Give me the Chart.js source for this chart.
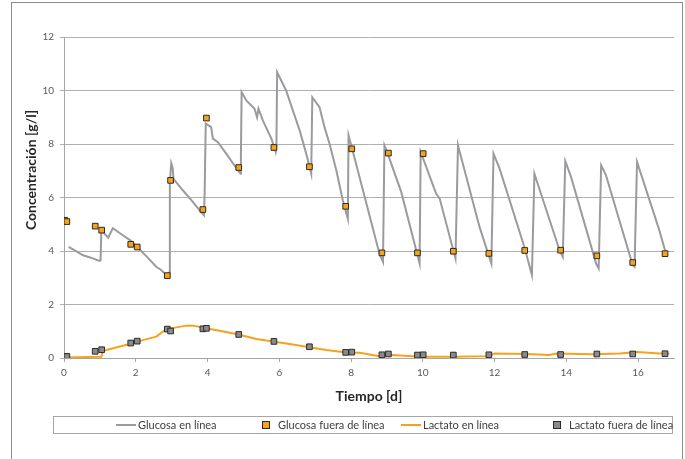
<!DOCTYPE html>
<html lang="es">
<head>
<meta charset="utf-8">
<title>Glucosa y lactato</title>
<script src="https://cdn.jsdelivr.net/npm/chart.js@4"></script>
<style>
  html, body { margin: 0; padding: 0; background: #fff; overflow: hidden; }
  body { width: 685px; height: 459px; position: relative; }
  #marco { position: absolute; left: 11px; top: 2px; width: 670px; height: 500px; border: 1px solid #8c8c8c; }
  #grafico { position: absolute; left: 0; top: 0; }
</style>
</head>
<body>
<div id="marco"></div>
<canvas id="grafico" width="685" height="459"></canvas>
<script>
/*=============== DATOS ===============*/

// Glucosa en línea (sensor continuo)
const glucosaLineaDias = [
  0.13, 0.3, 0.53, 0.75, 0.99, 1.02, 1.04, 1.23, 1.36, 1.5, 1.64, 1.85, 2.04, 2.3, 2.57, 2.7, 2.85,
  2.93, 2.95, 2.99, 3.03, 3.05, 3.31, 3.55, 3.78, 3.9, 3.92, 3.95, 4.1, 4.15, 4.29, 4.52, 4.85, 4.92,
  4.93, 4.95, 5.08, 5.31, 5.38, 5.42, 5.54, 5.78, 5.9, 5.92, 5.94, 6.19, 6.38, 6.57, 6.75, 6.89,
  6.92, 7.12, 7.26, 7.4, 7.59, 7.77, 7.91, 7.93, 8.03, 8.79, 8.89, 8.93, 9.02, 9.4, 9.85, 9.91,
  9.94, 10.37, 10.47, 10.91, 10.98, 11.58, 11.91, 11.97, 12.14, 12.83, 13.04, 13.11, 13.81, 13.9,
  13.97, 14.13, 14.83, 14.9, 14.97, 15.1, 15.85, 15.9, 15.97, 16.59, 16.75, 16.8
];
const glucosaLineaValores = [
  4.15, 4.02, 3.84, 3.75, 3.63, 3.65, 4.78, 4.5, 4.85, 4.72, 4.59, 4.4, 4.15, 3.8, 3.41, 3.3, 3.1,
  3.2, 6.6, 7.28, 7.1, 6.7, 6.27, 5.9, 5.52, 5.34, 6.2, 8.76, 8.63, 8.2, 8.07, 7.64, 7.01, 6.89,
  7.5, 9.94, 9.63, 9.32, 9.0, 9.32, 8.88, 8.2, 7.7, 7.9, 10.68, 10.0, 9.25, 8.5, 7.64, 6.89,
  9.75, 9.38, 8.63, 8.01, 7.01, 5.9, 5.21, 8.32, 7.82, 3.91, 3.59, 7.95, 7.64, 6.2, 3.85, 3.53,
  7.7, 6.15, 5.96, 3.72, 7.95, 4.9, 3.53, 7.64, 7.08, 4.15, 3.1, 6.89, 4.03, 3.78,
  7.36, 6.77, 3.53, 3.35, 7.2, 6.85, 3.47, 3.41, 7.33, 4.78, 4.03, 3.95
];

// Muestras fuera de línea (mismos días para glucosa y lactato)
const muestrasDias = [
  0.02, 0.08, 0.87, 1.05, 1.86, 2.04, 2.88, 2.97, 3.87, 3.97, 4.87, 5.85, 6.84, 7.85, 8.02,
  8.86, 9.04, 9.85, 10.01, 10.85, 11.84, 12.84, 13.84, 14.85, 15.85, 16.75
];
const glucosaFueraValores = [
  5.15, 5.1, 4.93, 4.78, 4.25, 4.15, 3.08, 6.64, 5.55, 8.97, 7.12, 7.87, 7.15, 5.67, 7.82,
  3.93, 7.66, 3.93, 7.64, 3.99, 3.91, 4.02, 4.03, 3.82, 3.57, 3.9
];
const lactatoFueraValores = [
  0.06, 0.06, 0.25, 0.31, 0.56, 0.63, 1.08, 1.01, 1.09, 1.11, 0.88, 0.62, 0.42, 0.21, 0.22,
  0.12, 0.15, 0.11, 0.12, 0.11, 0.12, 0.13, 0.13, 0.15, 0.15, 0.16
];

// Lactato en línea
const lactatoLineaDias = [
  0.07, 1.04, 1.09, 1.83, 2.15, 2.57, 2.85, 3.41, 3.6, 3.97, 4.8, 5.36, 5.83, 6.29, 6.84, 7.31,
  7.87, 8.24, 8.79, 9.17, 9.91, 10.84, 11.86, 12.0, 12.88, 13.53, 13.72, 14.73, 15.48, 15.99,
  16.59, 16.87
];
const lactatoLineaValores = [
  0.02, 0.05, 0.27, 0.52, 0.65, 0.8, 1.08, 1.21, 1.21, 1.11, 0.9, 0.71, 0.62, 0.52, 0.4, 0.3,
  0.21, 0.2, 0.07, 0.11, 0.05, 0.05, 0.07, 0.17, 0.15, 0.11, 0.17, 0.14, 0.17, 0.22,
  0.17, 0.17
];

const ejeXTicks = [0, 2, 4, 6, 8, 10, 12, 14, 16];
const ejeYTicks = [0, 2, 4, 6, 8, 10, 12];

/*=============== GRAFICO ===============*/

const puntos = (xs, ys) => xs.map((x, i) => ({ x: x, y: ys[i] }));

const GRIS = "#9b9b9f";
const NARANJA = "#f7a21b";
const FUENTE = "Lato, 'Liberation Sans', sans-serif";

// leyenda dibujada a mano, estilo Excel
const leyendaExcel = {
  id: "leyendaExcel",
  afterDraw(chart) {
    const ctx = chart.ctx;
    ctx.save();
    ctx.strokeStyle = "#a6a6a6";
    ctx.lineWidth = 1;
    ctx.strokeRect(53.5, 416.5, 619, 17);
    const columnas = [116, 256, 401, 547];
    const yc = 425;
    ctx.font = "11px " + FUENTE;
    ctx.fillStyle = "#404040";
    ctx.textBaseline = "middle";
    chart.data.datasets.forEach((ds, i) => {
      const x = columnas[i];
      if (ds.showLine) {
        ctx.strokeStyle = ds.borderColor;
        ctx.lineWidth = 2;
        ctx.beginPath();
        ctx.moveTo(x, yc);
        ctx.lineTo(x + 20, yc);
        ctx.stroke();
      } else {
        ctx.fillStyle = ds.backgroundColor;
        ctx.strokeStyle = ds.borderColor;
        ctx.lineWidth = 1;
        ctx.fillRect(x + 6.5, yc - 3.5, 7, 7);
        ctx.strokeRect(x + 6.5, yc - 3.5, 7, 7);
      }
      ctx.fillStyle = "#404040";
      ctx.fillText(ds.label, x + 22, yc);
    });
    // titulo del eje Y
    ctx.translate(31, 170);
    ctx.rotate(-Math.PI / 2);
    ctx.textAlign = "center";
    ctx.font = "bold 14px " + FUENTE;
    ctx.fillStyle = "#262626";
    ctx.fillText("Concentración [g/l]", 0, 0);
    ctx.restore();
  },
};

const ctx = document.getElementById("grafico").getContext("2d");
const grafico = new Chart(ctx, {
  type: "scatter",
  data: {
    datasets: [
      {
        label: "Glucosa en línea",
        data: puntos(glucosaLineaDias, glucosaLineaValores),
        showLine: true,
        borderColor: GRIS,
        borderWidth: 2,
        pointRadius: 0,
        order: 2,
      },
      {
        label: "Glucosa fuera de línea",
        data: puntos(muestrasDias, glucosaFueraValores),
        backgroundColor: NARANJA,
        borderColor: "#2b2b2b",
        borderWidth: 1,
        pointStyle: "rect",
        pointRadius: 4,
        order: 0,
      },
      {
        label: "Lactato en línea",
        data: puntos(lactatoLineaDias, lactatoLineaValores),
        showLine: true,
        borderColor: NARANJA,
        borderWidth: 2,
        pointRadius: 0,
        order: 1,
      },
      {
        label: "Lactato fuera de línea",
        data: puntos(muestrasDias, lactatoFueraValores),
        backgroundColor: "#8a8a8c",
        borderColor: "#2b2b2b",
        borderWidth: 1,
        pointStyle: "rect",
        pointRadius: 4,
        order: 0,
      },
    ],
  },
  options: {
    responsive: false,
    devicePixelRatio: 1,
    animation: false,
    layout: { padding: { left: 0, right: 11, top: 37, bottom: 50 } },
    plugins: {
      legend: { display: false },
      tooltip: { enabled: false },
    },
    scales: {
      x: {
        type: "linear",
        min: 0,
        max: 17,
        afterBuildTicks: (s) => { s.ticks = ejeXTicks.map((v) => ({ value: v })); },
        afterFit: (s) => { s.height = 51; },
        ticks: { color: "#595959", font: { family: FUENTE, size: 10 }, padding: 5 },
        grid: { drawOnChartArea: false, tickLength: 4, color: "#a6a6a6" },
        border: { color: "#a6a6a6" },
        title: {
          display: true,
          text: "Tiempo [d]",
          color: "#262626",
          font: { family: FUENTE, size: 14, weight: "bold" },
          padding: { top: 0, bottom: 4.6 },
        },
      },
      y: {
        min: 0,
        max: 12,
        afterBuildTicks: (s) => { s.ticks = ejeYTicks.map((v) => ({ value: v })); },
        afterFit: (s) => { s.width = 64; },
        ticks: { color: "#595959", font: { family: FUENTE, size: 10 }, padding: 6 },
        grid: { color: "#b0b0b0", tickLength: 4 },
        border: { color: "#a6a6a6" },
      },
    },
  },
  plugins: [leyendaExcel],
});
</script>
</body>
</html>
